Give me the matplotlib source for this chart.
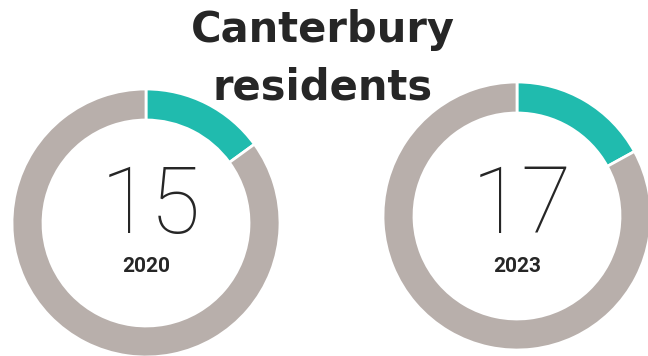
import matplotlib
matplotlib.use('Agg')
import matplotlib.pyplot as plt

# share of Canterbury residents, by survey year
years = ['2020', '2023']
shares = [15, 17]

teal = '#20bbae'
grey = '#b8afab'
ink = '#262626'

# donut centres and radii in pixel units (y measured from bottom)
centres = [(146, 356 - 223), (517, 356 - 216)]
outer = 134
ring = 31

fig = plt.figure(figsize=(6.48, 3.56), dpi=100)
ax = fig.add_axes([0, 0, 1, 1])

for i in range(len(years)):
    cx, cy = centres[i]
    ax.pie([shares[i], 100 - shares[i]], colors=[teal, grey],
           startangle=90, counterclock=False,
           center=(cx, cy), radius=outer, frame=True,
           wedgeprops=dict(width=ring, edgecolor='white', linewidth=2))
    # big number and year label share one baseline across both donuts
    ax.text(cx + 5, 356 - 233, str(shares[i]), ha='center', va='baseline',
            fontsize=66, fontfamily='Roboto', fontweight='light', color=ink)
    ax.text(cx, 356 - 272, years[i], ha='center', va='baseline',
            fontsize=15, fontfamily='Roboto', fontweight='bold', color=ink)

# title sits between the two donuts
ax.text(323, 356 - 42, 'Canterbury', ha='center', va='baseline',
        fontsize=30, fontfamily='DejaVu Sans', fontweight='bold', color=ink)
ax.text(323, 356 - 100, 'residents', ha='center', va='baseline',
        fontsize=30, fontfamily='DejaVu Sans', fontweight='bold', color=ink)

ax.set_xlim(0, 648)
ax.set_ylim(0, 356)
ax.set_aspect('equal')
ax.axis('off')

fig.savefig('out.png', dpi=100, facecolor='white')
